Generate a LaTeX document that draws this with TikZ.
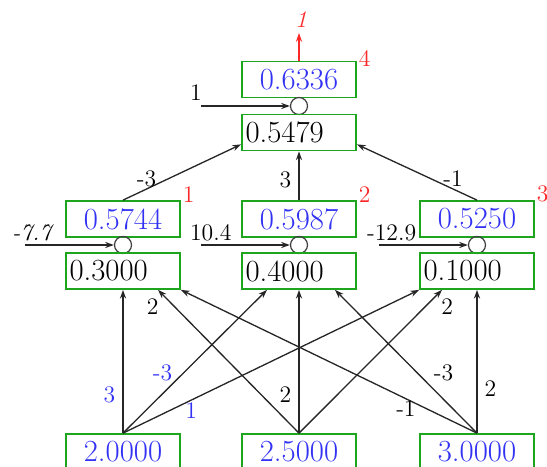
\documentclass[tikz,border=0pt]{standalone}
\usepackage{tikz}
\usetikzlibrary{arrows.meta,calc}
\usepackage{xcolor}
\definecolor{boxgreen}{RGB}{30,165,30}
\definecolor{numblue}{RGB}{50,50,245}
\definecolor{markred}{RGB}{250,40,40}
\tikzset{
  cell/.style={draw=boxgreen,line width=1pt,minimum width=2.28cm,minimum height=0.72cm,inner sep=0pt,font=\fontsize{17.5}{20}\selectfont},
  outcell/.style={cell,text=numblue},
  netcell/.style={cell,text width=2.14cm,inner xsep=0.07cm,align=left},
  sumnode/.style={circle,draw=black!75,line width=0.7pt,minimum size=0.34cm,inner sep=0pt},
  wire/.style={line width=0.75pt,draw=black!85,-{Stealth[length=5pt,width=3.5pt]}},
  wlabel/.style={font=\fontsize{13.5}{15}\selectfont,inner sep=1pt},
  bluelabel/.style={wlabel,text=numblue},
  redmark/.style={wlabel,text=markred}
}
\begin{document}
\begin{tikzpicture}[x=0.02cm,y=-0.02cm]
\useasboundingbox (0,0) rectangle (547,466);
% output unit
\node[outcell] (y) at (299,79.5) {0.6336};
\node[sumnode] (cy) at (299,106) {};
\node[netcell] (ny) at (299,132.5) {0.5479};
% hidden units, their sums and net inputs
\foreach \x/\n/\o/\v in {123/1/0.5744/0.3000, 299/2/0.5987/0.4000, 477/3/0.5250/0.1000} {
  \node[outcell] (h\n) at (\x,219) {\o};
  \node[sumnode] (s\n) at (\x,245) {};
  \node[netcell] (n\n) at (\x,271) {\v};
  \node[redmark,anchor=west] (r\n) at ($(h\n.north east)+(0,-6)$) {\n};
}
% inputs
\foreach \x/\n/\v in {123/1/2.0000, 299/2/2.5000, 477/3/3.0000}
  \node[outcell] (x\n) at (\x,452) {\v};
% bias arrows
\coordinate (by) at ($(cy.center)+(-98,0)$);
\coordinate (b1) at ($(s1.center)+(-98,0)$);
\coordinate (b2) at ($(s2.center)+(-98,0)$);
\coordinate (b3) at ($(s3.center)+(-98,0)$);
\draw[wire] (by) -- (cy);
\draw[wire] (b1) -- (s1);
\draw[wire] (b2) -- (s2);
\draw[wire] (b3) -- (s3);
\node[wlabel,anchor=south west] (lby) at ($(by)+(-13,-3)$) {1};
\node[wlabel,anchor=south west] (lb1) at ($(b1)+(-15,-2)$) {\textit{-7.7}};
\node[wlabel,anchor=south west] (lb2) at ($(b2)+(-13,-2)$) {10.4};
\node[wlabel,anchor=south west] (lb3) at ($(b3)+(-14,-2)$) {-12.9};
% output arrow
\coordinate (yend) at (299,33);
\draw[wire,draw=markred,color=markred] (y.north) -- (yend);
\node[redmark,anchor=south] (ly) at ($(yend)+(2,-3)$) {\textit{1}};
\node[redmark,anchor=west] (r4) at ($(y.north east)+(0,-2)$) {4};
% hidden to output
\draw[wire] (h1.north) -- node[wlabel,pos=0.2,anchor=south] (w1) {-3} ($(ny.south west)+(0,-7)$);
\draw[wire] (h2.north) -- node[wlabel,pos=0.41,left=3pt] (w2) {3} (ny.south);
\draw[wire] (h3.north) -- node[wlabel,pos=0.2,anchor=south] (w3) {-1} ($(ny.south east)+(0,-7)$);
% inputs to hidden
\draw[wire] (x1.north) -- node[bluelabel,pos=0.27,left=3pt] (v11) {3} (n1.south);
\draw[wire] (x1.north) -- node[bluelabel,pos=0.42,left=5pt] (v12) {-3} ($(n2.south)+(-32,0)$);
\draw[wire] (x1.north) -- node[bluelabel,pos=0.23,anchor=north] (v13) {1} (n3.south west);
\draw[wire] (x2.north) -- node[wlabel,pos=0.88,left=8pt] (v21) {2} ($(n1.south)+(35,0)$);
\draw[wire] (x2.north) -- node[wlabel,pos=0.27,left=3pt] (v22) {2} (n2.south);
\draw[wire] (x2.north) -- node[wlabel,pos=0.88,right=8pt] (v23) {2} ($(n3.south)+(-35,0)$);
\draw[wire] (x3.north) -- node[wlabel,pos=0.24,anchor=north] (v31) {-1} (n1.south east);
\draw[wire] (x3.north) -- node[wlabel,pos=0.42,right=8pt] (v32) {-3} ($(n2.south)+(36,0)$);
\draw[wire] (x3.north) -- node[wlabel,pos=0.31,right=3pt] (v33) {2} (n3.south);
\end{tikzpicture}
\end{document}
